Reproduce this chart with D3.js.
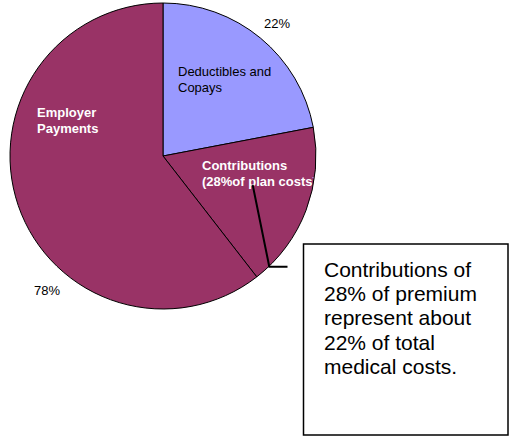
<!DOCTYPE html>
<html>
<head>
<meta charset="utf-8">
<script src="https://cdn.jsdelivr.net/npm/d3@7"></script>
<style>
  body { margin: 0; background: #fff; }
  svg { display: block; font-family: Arial, "Liberation Sans", sans-serif; }
</style>
</head>
<body>
<svg width="511" height="437"></svg>
<script>
(function () {
    'use strict';

    // slices clockwise from 12 o'clock
    var slices = ["Deductibles and Copays", "Contributions", "Employer Payments"];
    var shares = [22, 17.5, 60.5];
    var colors = ["#9999ff", "#993366", "#993366"];
    var pctLabels = ["22%", "78%"];
    var noteLines = ["Contributions of", "28% of premium", "represent about", "22% of total", "medical costs."];

    var svg = d3.select("svg");
    var cx = 163, cy = 156, r = 153;

    var pie = d3.pie().sort(null).value(function (d) { return d; });
    var arc = d3.arc().innerRadius(0).outerRadius(r);

    var g = svg.append("g").attr("transform", "translate(" + cx + "," + cy + ")");

    g.selectAll("path.slice")
        .data(pie(shares))
        .enter().append("path")
        .attr("class", "slice")
        .attr("d", arc)
        .attr("fill", function (d, i) { return colors[i]; })
        .attr("stroke", "#000")
        .attr("stroke-width", 1);

    // in-slice labels
    g.append("text")
        .attr("font-size", 13).attr("fill", "#000")
        .selectAll("tspan").data(["Deductibles and", "Copays"]).enter()
        .append("tspan").attr("x", 15).attr("y", function (d, i) { return -80 + i * 15.5; })
        .text(function (d) { return d; });

    g.append("text")
        .attr("font-size", 13).attr("font-weight", "bold").attr("fill", "#fff")
        .selectAll("tspan").data(["Employer", "Payments"]).enter()
        .append("tspan").attr("x", -126).attr("y", function (d, i) { return -39 + i * 15.5; })
        .text(function (d) { return d; });

    // label runs past the pie edge and is cut there
    g.append("clipPath").attr("id", "pieclip")
        .append("circle").attr("r", r - 1);
    g.append("text")
        .attr("clip-path", "url(#pieclip)")
        .attr("font-size", 13).attr("font-weight", "bold").attr("fill", "#fff")
        .selectAll("tspan").data(["Contributions", "(28%of plan costs)"]).enter()
        .append("tspan").attr("x", 39).attr("y", function (d, i) { return 14 + i * 16; })
        .text(function (d) { return d; });

    // percent labels outside
    svg.append("text").attr("x", 264).attr("y", 28).attr("font-size", 13).text(pctLabels[0]);
    svg.append("text").attr("x", 34).attr("y", 295).attr("font-size", 13).text(pctLabels[1]);

    // leader line
    svg.append("path")
        .attr("d", "M252.7,185 L269.3,266.7 L287.5,266.7")
        .attr("fill", "none").attr("stroke", "#000").attr("stroke-width", 2);

    // note box
    svg.append("rect")
        .attr("x", 303.5).attr("y", 244).attr("width", 204.5).attr("height", 191)
        .attr("fill", "#fff").attr("stroke", "#000").attr("stroke-width", 1.5);

    svg.append("text")
        .attr("font-size", 21).attr("fill", "#000")
        .selectAll("tspan").data(noteLines).enter()
        .append("tspan").attr("x", 324).attr("y", function (d, i) { return 277 + i * 24.2; })
        .text(function (d) { return d; });
}());
</script>
</body>
</html>
